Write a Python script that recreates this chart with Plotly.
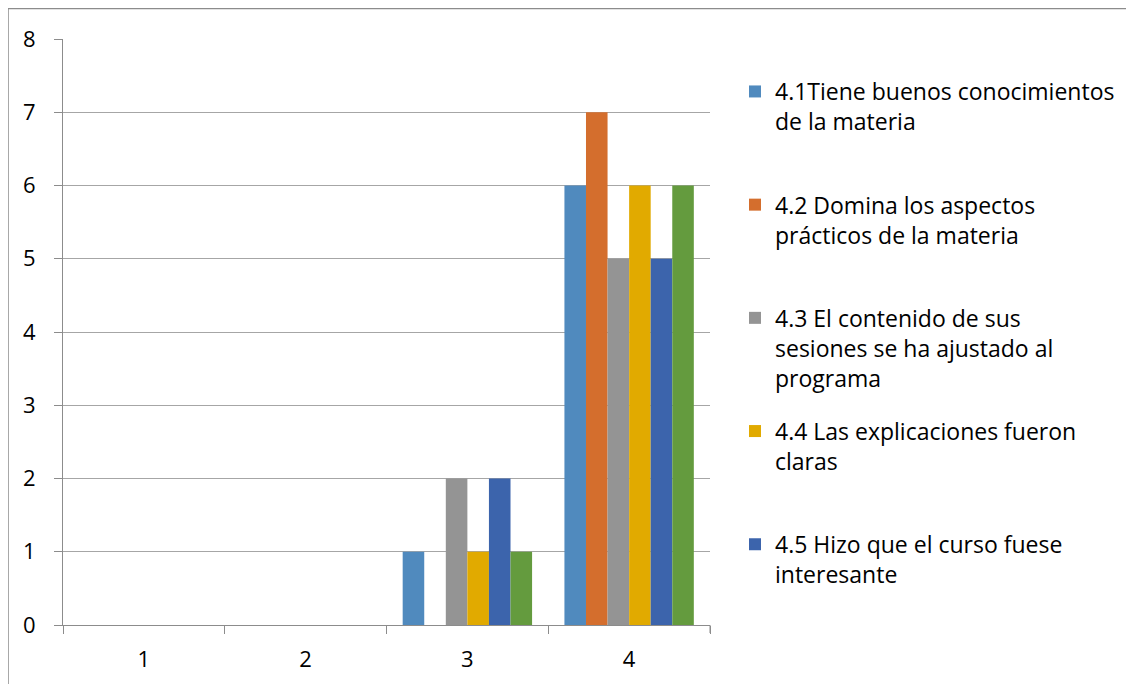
import plotly.graph_objects as go

categories = ["1", "2", "3", "4"]

series_names = [
    "4.1Tiene buenos conocimientos<br>de la materia<br> ",
    "4.2 Domina los aspectos<br>prácticos de la materia<br> ",
    "4.3 El contenido de sus<br>sesiones se ha ajustado al<br>programa",
    "4.4 Las explicaciones fueron<br>claras<br> ",
    "4.5 Hizo que el curso fuese<br>interesante<br> ",
    "4.6",
]
s41 = [0, 0, 1, 6]
s42 = [0, 0, 0, 7]
s43 = [0, 0, 2, 5]
s44 = [0, 0, 1, 6]
s45 = [0, 0, 2, 5]
s46 = [0, 0, 1, 6]
series_values = [s41, s42, s43, s44, s45, s46]
colors = ["#508ABE", "#D46E2D", "#949494", "#E1AA00", "#3C64AC", "#649B3E"]
show_in_legend = [True, True, True, True, True, False]

# figure is placed at page offset (8, 8) by the html body margin
W, H = 1126, 676
L, R, T, B = 55, 702, 31, 617

fig = go.Figure()
for i, (name, vals, col, sh) in enumerate(zip(series_names, series_values, colors, show_in_legend)):
    fig.add_trace(go.Bar(
        x=categories, y=vals, name=name,
        marker=dict(color=col, line=dict(width=0)),
        showlegend=sh, legendgroup=f"g{i}",
    ))

font_family = "'Open Sans', 'Liberation Sans', sans-serif"
grid_col = "#A6A6A6"
axis_col = "#8C8C8C"

fig.update_layout(
    width=W, height=H,
    margin=dict(l=L, r=W - R, t=T, b=H - B, pad=0),
    paper_bgcolor="white", plot_bgcolor="white",
    barmode="group", bargap=0.2, bargroupgap=0,
    font=dict(family=font_family, size=22, color="#000000"),
    showlegend=True,
    legend=dict(
        x=(727 - L) / (R - L), xanchor="left",
        y=(B - 62) / (B - T), yanchor="top",
        valign="top", tracegroupgap=20.5,
        font=dict(family=font_family, size=23, color="#000000"),
        bgcolor="rgba(0,0,0,0)",
    ),
    xaxis=dict(
        type="category", showgrid=False, showline=True, linecolor=axis_col, linewidth=1,
        ticks="outside", tickson="boundaries", ticklen=8, tickcolor=axis_col,
        ticklabelstandoff=15, zeroline=False,
    ),
    yaxis=dict(
        range=[0, 8], dtick=1, showgrid=True, gridcolor=grid_col, gridwidth=1,
        showline=True, linecolor=axis_col, linewidth=1,
        ticks="outside", ticklen=8, tickcolor=axis_col,
        ticklabelstandoff=14, zeroline=False,
    ),
    shapes=[
        dict(type="rect", xref="paper", yref="paper",
             x0=(0 - L) / (R - L), x1=(W + 30 - L) / (R - L),
             y0=(B - (H + 30)) / (B - T), y1=(B - 0.5) / (B - T),
             line=dict(color="#8C8C8C", width=1.5), fillcolor="rgba(0,0,0,0)", layer="below"),
        dict(type="line", xref="paper", yref="paper", x0=1, x1=1, y0=0, y1=-8 / (B - T),
             line=dict(color=axis_col, width=1)),
    ],
)

fig.write_html("out.html")
